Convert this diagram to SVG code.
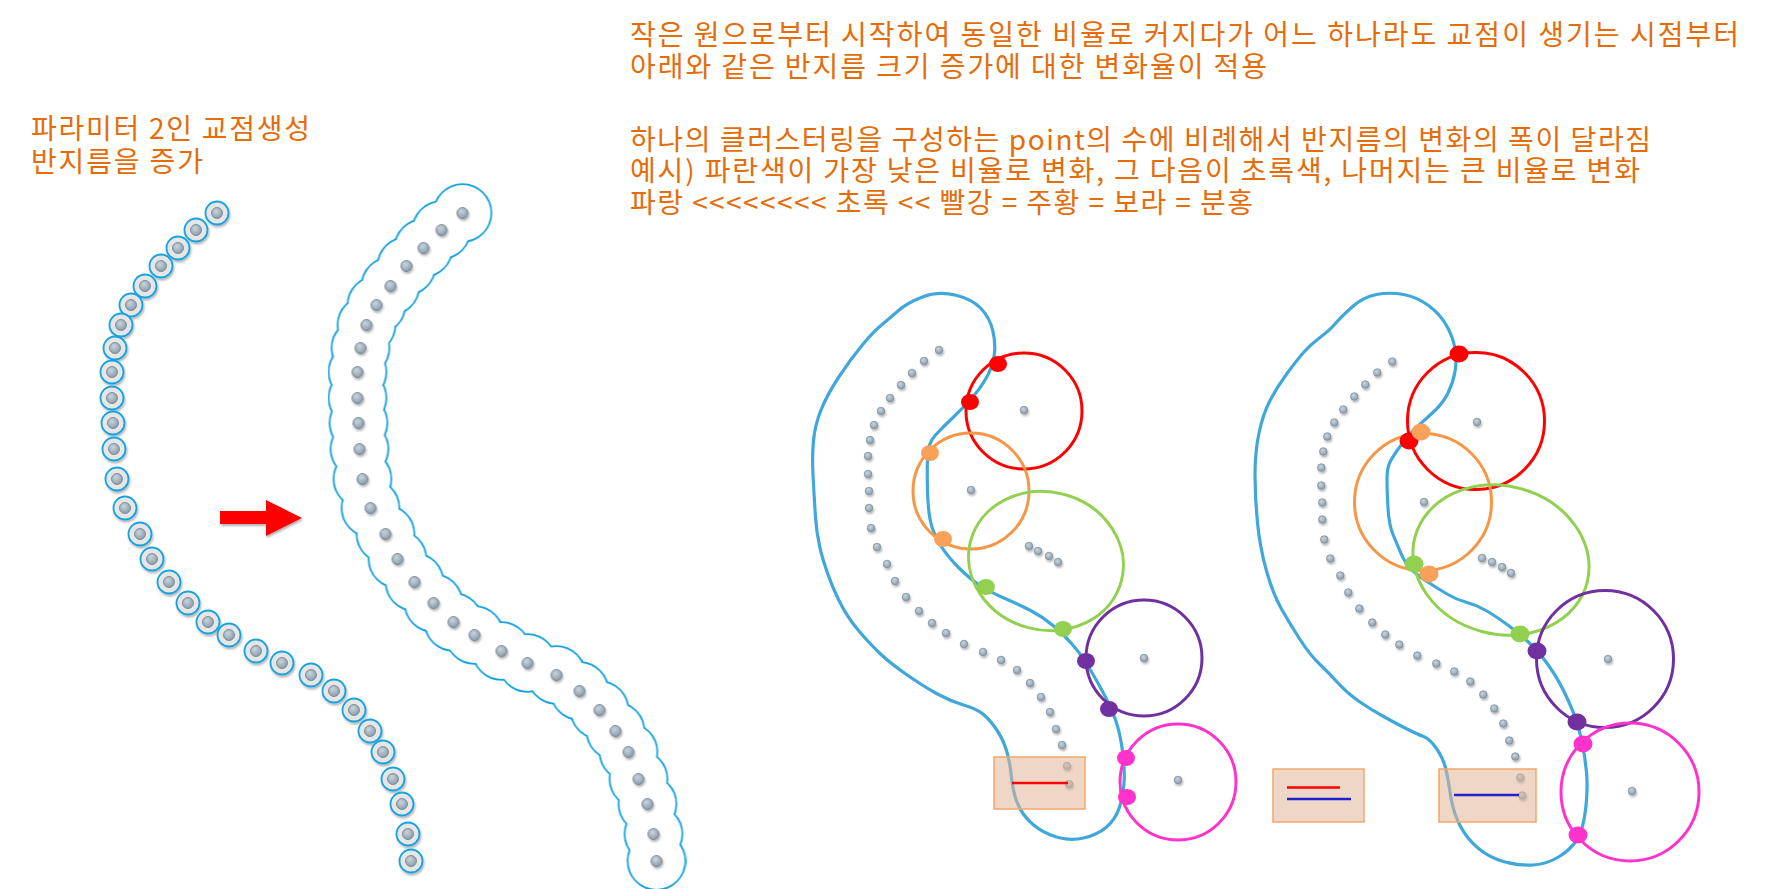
<svg xmlns="http://www.w3.org/2000/svg" width="1767" height="889" viewBox="0 0 1767 889">
<defs>
<style>
.t{font-family:"Noto Sans CJK KR","Noto Sans",sans-serif;font-size:28px;fill:#E46C0A}
.ring{fill:#E6E6E6;stroke:#17A3E0;stroke-width:1.8}
.bo circle{fill:none;stroke:#17A3E0;stroke-width:3.6}
.bw circle{fill:#fff}
.blob{fill:none;stroke:#3FA7DA;stroke-width:3.2;stroke-linejoin:round}
.c{fill:none;stroke-width:3}
.hl{stroke:none}
.rect{fill:#E2B79B;fill-opacity:.55;stroke:#F6A56A;stroke-width:1.5}
</style>
<radialGradient id="dg" cx="0.4" cy="0.35" r="0.7"><stop offset="0" stop-color="#C8D5DE"/><stop offset="1" stop-color="#8798A5"/></radialGradient>
<filter id="sh" x="-20%" y="-20%" width="140%" height="140%"><feDropShadow dx="1" dy="2" stdDeviation="1.2" flood-color="#000" flood-opacity="0.3"/></filter>
<circle id="d" r="5.5" fill="url(#dg)" stroke="#6F7F8B" stroke-width="0.8"/>
<circle id="sd" r="3.8" fill="url(#dg)" stroke="#7A8A96" stroke-width="0.7"/>
<g id="rg"><circle r="11.5" class="ring"/><use href="#d"/></g>
</defs>
<rect width="1767" height="889" fill="#fff"/>

<g id="title-left">
<text class="t" x="31" y="139" textLength="279" lengthAdjust="spacing">파라미터 2인 교점생성</text>
<text class="t" x="31" y="172" textLength="172" lengthAdjust="spacing">반지름을 증가</text>
</g>
<g id="title-right">
<text class="t" x="630" y="45" textLength="1109" lengthAdjust="spacing">작은 원으로부터 시작하여 동일한 비율로 커지다가 어느 하나라도 교점이 생기는 시점부터</text>
<text class="t" x="630" y="77" textLength="637" lengthAdjust="spacing">아래와 같은 반지름 크기 증가에 대한 변화율이 적용</text>
<text class="t" x="630" y="150" textLength="1021" lengthAdjust="spacing">하나의 클러스터링을 구성하는 point의 수에 비례해서 반지름의 변화의 폭이 달라짐</text>
<text class="t" x="630" y="181" textLength="1010" lengthAdjust="spacing">예시) 파란색이 가장 낮은 비율로 변화, 그 다음이 초록색, 나머지는 큰 비율로 변화</text>
<text class="t" x="630" y="213" textLength="623" lengthAdjust="spacing">파랑 &lt;&lt;&lt;&lt;&lt;&lt;&lt;&lt; 초록 &lt;&lt; 빨강 = 주황 = 보라 = 분홍</text>
</g>

<g id="chain-left" filter="url(#sh)">
<use href="#rg" x="217" y="213"/><use href="#rg" x="196" y="230"/><use href="#rg" x="178" y="248"/><use href="#rg" x="161" y="266"/><use href="#rg" x="145" y="286"/><use href="#rg" x="131" y="305"/><use href="#rg" x="121" y="325"/><use href="#rg" x="115" y="348"/><use href="#rg" x="112" y="372"/><use href="#rg" x="112" y="398"/><use href="#rg" x="113" y="423"/><use href="#rg" x="114" y="449"/><use href="#rg" x="117" y="479"/><use href="#rg" x="125" y="508"/><use href="#rg" x="140" y="534"/><use href="#rg" x="152" y="559"/><use href="#rg" x="169" y="582"/><use href="#rg" x="188" y="603"/><use href="#rg" x="208" y="622"/><use href="#rg" x="229" y="635"/><use href="#rg" x="256" y="651"/><use href="#rg" x="282" y="663"/><use href="#rg" x="311" y="675"/><use href="#rg" x="334" y="691"/><use href="#rg" x="354" y="710"/><use href="#rg" x="370" y="731"/><use href="#rg" x="383" y="752"/><use href="#rg" x="393" y="779"/><use href="#rg" x="402" y="804"/><use href="#rg" x="408" y="834"/><use href="#rg" x="411" y="861"/>
</g>

<g id="arrow" filter="url(#sh)">
<path d="M220,511 H266 V500 L302,518 L266,536 V524 H220 Z" fill="#FF0000"/>
</g>

<g id="chain-grown" transform="translate(245.5,0)">
<g class="bo">
<circle cx="217" cy="213" r="28"/><circle cx="196" cy="230" r="28"/><circle cx="178" cy="248" r="28"/><circle cx="161" cy="266" r="28"/><circle cx="145" cy="286" r="28"/><circle cx="131" cy="305" r="28"/><circle cx="121" cy="325" r="28"/><circle cx="115" cy="348" r="28"/><circle cx="112" cy="372" r="28"/><circle cx="112" cy="398" r="28"/><circle cx="113" cy="423" r="28"/><circle cx="114" cy="449" r="28"/><circle cx="117" cy="479" r="28"/><circle cx="125" cy="508" r="28"/><circle cx="140" cy="534" r="28"/><circle cx="152" cy="559" r="28"/><circle cx="169" cy="582" r="28"/><circle cx="188" cy="603" r="28"/><circle cx="208" cy="622" r="28"/><circle cx="229" cy="635" r="28"/><circle cx="256" cy="651" r="28"/><circle cx="282" cy="663" r="28"/><circle cx="311" cy="675" r="28"/><circle cx="334" cy="691" r="28"/><circle cx="354" cy="710" r="28"/><circle cx="370" cy="731" r="28"/><circle cx="383" cy="752" r="28"/><circle cx="393" cy="779" r="28"/><circle cx="402" cy="804" r="28"/><circle cx="408" cy="834" r="28"/><circle cx="411" cy="861" r="28"/>
</g>
<g class="bw">
<circle cx="217" cy="213" r="28"/><circle cx="196" cy="230" r="28"/><circle cx="178" cy="248" r="28"/><circle cx="161" cy="266" r="28"/><circle cx="145" cy="286" r="28"/><circle cx="131" cy="305" r="28"/><circle cx="121" cy="325" r="28"/><circle cx="115" cy="348" r="28"/><circle cx="112" cy="372" r="28"/><circle cx="112" cy="398" r="28"/><circle cx="113" cy="423" r="28"/><circle cx="114" cy="449" r="28"/><circle cx="117" cy="479" r="28"/><circle cx="125" cy="508" r="28"/><circle cx="140" cy="534" r="28"/><circle cx="152" cy="559" r="28"/><circle cx="169" cy="582" r="28"/><circle cx="188" cy="603" r="28"/><circle cx="208" cy="622" r="28"/><circle cx="229" cy="635" r="28"/><circle cx="256" cy="651" r="28"/><circle cx="282" cy="663" r="28"/><circle cx="311" cy="675" r="28"/><circle cx="334" cy="691" r="28"/><circle cx="354" cy="710" r="28"/><circle cx="370" cy="731" r="28"/><circle cx="383" cy="752" r="28"/><circle cx="393" cy="779" r="28"/><circle cx="402" cy="804" r="28"/><circle cx="408" cy="834" r="28"/><circle cx="411" cy="861" r="28"/>
</g>
<g filter="url(#sh)">
<use href="#d" x="217" y="213"/><use href="#d" x="196" y="230"/><use href="#d" x="178" y="248"/><use href="#d" x="161" y="266"/><use href="#d" x="145" y="286"/><use href="#d" x="131" y="305"/><use href="#d" x="121" y="325"/><use href="#d" x="115" y="348"/><use href="#d" x="112" y="372"/><use href="#d" x="112" y="398"/><use href="#d" x="113" y="423"/><use href="#d" x="114" y="449"/><use href="#d" x="117" y="479"/><use href="#d" x="125" y="508"/><use href="#d" x="140" y="534"/><use href="#d" x="152" y="559"/><use href="#d" x="169" y="582"/><use href="#d" x="188" y="603"/><use href="#d" x="208" y="622"/><use href="#d" x="229" y="635"/><use href="#d" x="256" y="651"/><use href="#d" x="282" y="663"/><use href="#d" x="311" y="675"/><use href="#d" x="334" y="691"/><use href="#d" x="354" y="710"/><use href="#d" x="370" y="731"/><use href="#d" x="383" y="752"/><use href="#d" x="393" y="779"/><use href="#d" x="402" y="804"/><use href="#d" x="408" y="834"/><use href="#d" x="411" y="861"/>
</g>
</g>

<g id="panel-a">
<g id="panel-a-points" filter="url(#sh)">
<g id="arc-a">
<use href="#sd" x="939" y="350"/><use href="#sd" x="924" y="361"/><use href="#sd" x="912" y="373"/><use href="#sd" x="901" y="385"/><use href="#sd" x="890" y="398"/><use href="#sd" x="881" y="411"/><use href="#sd" x="874" y="425"/><use href="#sd" x="870" y="440"/><use href="#sd" x="868" y="456"/><use href="#sd" x="868" y="474"/><use href="#sd" x="869" y="491"/><use href="#sd" x="869" y="508"/><use href="#sd" x="871" y="528"/><use href="#sd" x="877" y="547"/><use href="#sd" x="887" y="564"/><use href="#sd" x="895" y="581"/><use href="#sd" x="906" y="597"/><use href="#sd" x="919" y="611"/><use href="#sd" x="932" y="623"/><use href="#sd" x="946" y="633"/><use href="#sd" x="964" y="644"/><use href="#sd" x="983" y="652"/><use href="#sd" x="1001" y="660"/><use href="#sd" x="1017" y="670"/><use href="#sd" x="1030" y="683"/><use href="#sd" x="1041" y="697"/><use href="#sd" x="1050" y="712"/><use href="#sd" x="1056" y="729"/><use href="#sd" x="1062" y="745"/><use href="#sd" x="1067" y="766"/><use href="#sd" x="1069" y="784"/>
</g>
<use href="#sd" x="1024" y="410"/><use href="#sd" x="971" y="490"/><use href="#sd" x="1029" y="546"/><use href="#sd" x="1038" y="551"/><use href="#sd" x="1049" y="556"/><use href="#sd" x="1058" y="562"/><use href="#sd" x="1144" y="658"/><use href="#sd" x="1178" y="780"/>
</g>
<path class="blob" d="M922.5,297 Q938,291 955,295 Q972,299 981,308.5 Q990,318 993,331.5 Q996,345 994,356.5 Q992,368 986,378.5 Q980,389 971.5,398.5 Q963,408 953,417.5 Q943,427 935.5,435 Q928,443 927.5,457 Q927,471 927.5,490.5 Q928,510 930.5,521.5 Q933,533 940,544.5 Q947,556 958.5,567.5 Q970,579 980,585.5 Q990,592 1005,598.5 Q1020,605 1031.5,611 Q1043,617 1053,625.5 Q1063,634 1071.5,643.5 Q1080,653 1086.5,663.5 Q1093,674 1101.5,689.5 Q1110,705 1115,718.5 Q1120,732 1122.5,751 Q1125,770 1124,783.5 Q1123,797 1119,808.5 Q1115,820 1106,827.5 Q1097,835 1083.5,838 Q1070,841 1056.5,837 Q1043,833 1033,824.5 Q1023,816 1018,804.5 Q1013,793 1011.5,777.5 Q1010,762 1006.5,750.5 Q1003,739 996.5,729.5 Q990,720 983.5,714.5 Q977,709 963.5,705 Q950,701 936.5,693.5 Q923,686 906.5,674.5 Q890,663 880,653.5 Q870,644 858.5,630.5 Q847,617 838.5,599.5 Q830,582 823.5,561 Q817,540 815.5,517 Q814,494 813,475 Q812,456 813.5,440.5 Q815,425 821,410 Q827,395 838.5,377.5 Q850,360 861.5,346 Q873,332 881.5,325 Q890,318 898.5,310.5 Q907,303 922.5,297 Z"/>
<circle class="c" cx="1024" cy="411" r="58" stroke="#FF0000"/>
<circle class="c" cx="971" cy="491" r="58" stroke="#F79646"/>
<ellipse class="c" cx="1046" cy="561" rx="78" ry="69" transform="rotate(15 1046 561)" stroke="#92D050"/>
<circle class="c" cx="1144" cy="658" r="58" stroke="#7030A0"/>
<circle class="c" cx="1178" cy="782" r="58" stroke="#FF33CC"/>
<g class="hl">
<ellipse cx="998" cy="364" rx="9" ry="8" fill="#FF0000"/><ellipse cx="970" cy="402" rx="9" ry="8" fill="#FF0000"/>
<ellipse cx="930" cy="453" rx="9" ry="8" fill="#F9A05A"/><ellipse cx="943" cy="539" rx="9" ry="8" fill="#F9A05A"/>
<ellipse cx="986" cy="587" rx="9" ry="8" fill="#92D050"/><ellipse cx="1063" cy="629" rx="9" ry="8" fill="#92D050"/>
<ellipse cx="1086" cy="661" rx="9" ry="8" fill="#7030A0"/><ellipse cx="1109" cy="709" rx="9" ry="8" fill="#7030A0"/>
<ellipse cx="1126" cy="758" rx="9" ry="8" fill="#FF33CC"/><ellipse cx="1127" cy="797" rx="9" ry="8" fill="#FF33CC"/>
</g>
<rect class="rect" x="994" y="757" width="91" height="52"/>
<line x1="1012" y1="783" x2="1068" y2="783" stroke="#FF0000" stroke-width="2.5"/>
</g>

<g id="legend">
<rect class="rect" x="1273" y="769" width="91" height="53"/>
<line x1="1287" y1="787.5" x2="1340" y2="787.5" stroke="#FF0000" stroke-width="2.5"/>
<line x1="1287" y1="799" x2="1351" y2="799" stroke="#2222CC" stroke-width="2.5"/>
</g>

<g id="panel-b">
<g id="panel-b-points" filter="url(#sh)">
<g transform="translate(453.3,11.5)">
<use href="#sd" x="939" y="350"/><use href="#sd" x="924" y="361"/><use href="#sd" x="912" y="373"/><use href="#sd" x="901" y="385"/><use href="#sd" x="890" y="398"/><use href="#sd" x="881" y="411"/><use href="#sd" x="874" y="425"/><use href="#sd" x="870" y="440"/><use href="#sd" x="868" y="456"/><use href="#sd" x="868" y="474"/><use href="#sd" x="869" y="491"/><use href="#sd" x="869" y="508"/><use href="#sd" x="871" y="528"/><use href="#sd" x="877" y="547"/><use href="#sd" x="887" y="564"/><use href="#sd" x="895" y="581"/><use href="#sd" x="906" y="597"/><use href="#sd" x="919" y="611"/><use href="#sd" x="932" y="623"/><use href="#sd" x="946" y="633"/><use href="#sd" x="964" y="644"/><use href="#sd" x="983" y="652"/><use href="#sd" x="1001" y="660"/><use href="#sd" x="1017" y="670"/><use href="#sd" x="1030" y="683"/><use href="#sd" x="1041" y="697"/><use href="#sd" x="1050" y="712"/><use href="#sd" x="1056" y="729"/><use href="#sd" x="1062" y="745"/><use href="#sd" x="1067" y="766"/><use href="#sd" x="1069" y="784"/>
</g>
<use href="#sd" x="1477" y="422"/><use href="#sd" x="1424" y="502"/><use href="#sd" x="1482" y="558"/><use href="#sd" x="1492" y="562"/><use href="#sd" x="1502" y="567"/><use href="#sd" x="1511" y="573"/><use href="#sd" x="1608" y="659"/><use href="#sd" x="1632" y="791"/>
</g>
<path class="blob" d="M1376.5,294.5 Q1390,292 1403.5,294.5 Q1417,297 1428.5,305.5 Q1440,314 1446.5,325.5 Q1453,337 1455,348.5 Q1457,360 1455,371.5 Q1453,383 1448,393 Q1443,403 1435,410.5 Q1427,418 1418.5,425.5 Q1410,433 1401.5,444.5 Q1393,456 1390,462 Q1387,468 1387,479.5 Q1387,491 1388,508 Q1389,525 1393,534.5 Q1397,544 1401,553.5 Q1405,563 1411,569 Q1417,575 1427,581.5 Q1437,588 1447,594 Q1457,600 1467,602.5 Q1477,605 1487,611 Q1497,617 1508.5,625.5 Q1520,634 1530,643.5 Q1540,653 1550,667.5 Q1560,682 1568.5,701 Q1577,720 1581,737.5 Q1585,755 1586.5,772 Q1588,789 1585.5,810 Q1583,831 1576.5,840.5 Q1570,850 1558.5,857 Q1547,864 1533.5,865 Q1520,866 1505,862 Q1490,858 1478.5,848.5 Q1467,839 1460,825.5 Q1453,812 1450.5,795 Q1448,778 1445.5,768 Q1443,758 1436.5,748.5 Q1430,739 1423.5,736.5 Q1417,734 1407,729 Q1397,724 1383.5,716.5 Q1370,709 1358.5,701 Q1347,693 1338.5,683.5 Q1330,674 1320,664.5 Q1310,655 1300,639.5 Q1290,624 1281.5,609 Q1273,594 1266.5,571 Q1260,548 1257.5,523 Q1255,498 1255,475 Q1255,452 1259,433 Q1263,414 1270,400.5 Q1277,387 1287,373.5 Q1297,360 1303.5,352.5 Q1310,345 1320,337.5 Q1330,330 1335,324 Q1340,318 1351.5,307.5 Q1363,297 1376.5,294.5 Z"/>
<circle class="c" cx="1476" cy="421" r="68.5" stroke="#FF0000"/>
<circle class="c" cx="1423" cy="502" r="68.5" stroke="#F79646"/>
<ellipse class="c" cx="1501" cy="560" rx="89" ry="74" transform="rotate(15 1501 560)" stroke="#92D050"/>
<circle class="c" cx="1605" cy="659" r="68.5" stroke="#7030A0"/>
<circle class="c" cx="1630" cy="792" r="69" stroke="#FF33CC"/>
<g class="hl">
<ellipse cx="1459" cy="354" rx="9.5" ry="8.5" fill="#FF0000"/><ellipse cx="1409" cy="441" rx="9.5" ry="8.5" fill="#FF0000"/>
<ellipse cx="1414" cy="564" rx="9.5" ry="8.5" fill="#92D050"/><ellipse cx="1520" cy="634" rx="9.5" ry="8.5" fill="#92D050"/>
<ellipse cx="1421" cy="432" rx="9.5" ry="8.5" fill="#F9A05A"/><ellipse cx="1429" cy="574" rx="9.5" ry="8.5" fill="#F9A05A"/>
<ellipse cx="1537" cy="651" rx="9.5" ry="8.5" fill="#7030A0"/><ellipse cx="1577" cy="722" rx="9.5" ry="8.5" fill="#7030A0"/>
<ellipse cx="1583" cy="744" rx="9.5" ry="8.5" fill="#FF33CC"/><ellipse cx="1578" cy="835" rx="9.5" ry="8.5" fill="#FF33CC"/>
</g>
<rect class="rect" x="1439" y="769" width="97" height="53"/>
<line x1="1454" y1="795" x2="1519" y2="795" stroke="#2222CC" stroke-width="2.5"/>
</g>
</svg>
